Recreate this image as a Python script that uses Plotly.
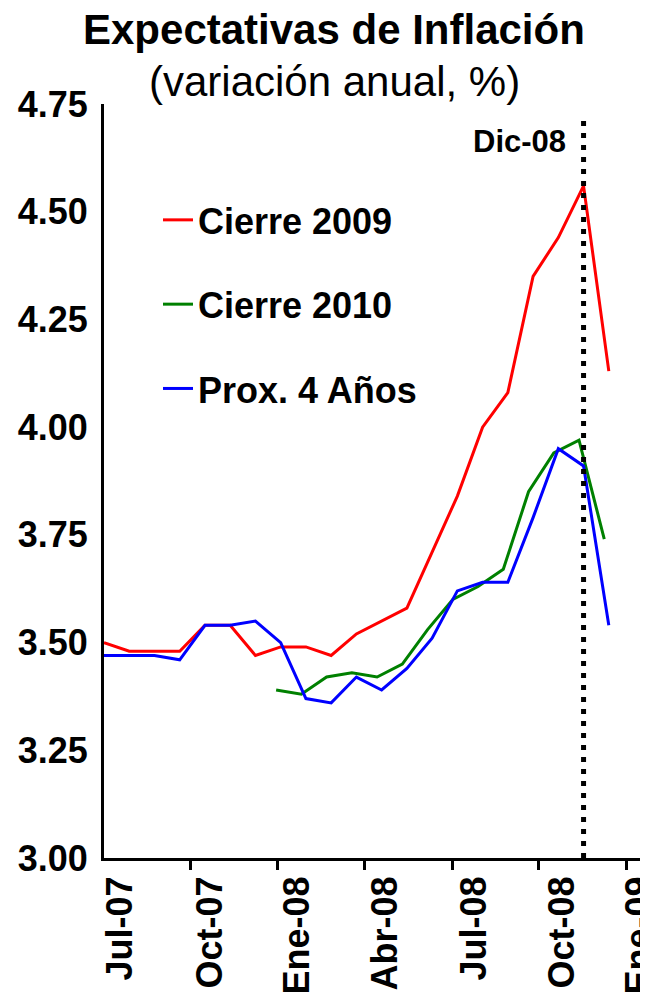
import plotly.graph_objects as go

# observaciones (índice mensual sobre el eje) y series
obs = list(range(21))
cierre_2009 = [3.50, 3.48, 3.48, 3.48, 3.54, 3.54, 3.47, 3.49, 3.49, 3.47, 3.52,
               3.55, 3.58, 3.71, 3.84, 4.00, 4.08, 4.35, 4.44, 4.56, 4.13]
obs_2010 = [6.82, 7.82, 8.82, 9.82, 10.82, 11.82, 12.82, 13.82, 14.82, 15.82,
            16.82, 17.82, 18.82, 19.82]
cierre_2010 = [3.39, 3.38, 3.42, 3.43, 3.42, 3.45, 3.53, 3.60, 3.63, 3.67,
               3.85, 3.94, 3.97, 3.74]
prox_4 = [3.47, 3.47, 3.47, 3.46, 3.54, 3.54, 3.55, 3.50, 3.37, 3.36, 3.42,
          3.39, 3.44, 3.51, 3.62, 3.64, 3.64, 3.79, 3.95, 3.91, 3.54]

meses = ["Jul-07", "Oct-07", "Ene-08", "Abr-08", "Jul-08", "Oct-08", "Ene-09"]
pos_meses = [0.63, 4.2, 7.65, 11.15, 14.68, 18.15, 21.2]
pos_marcas = [3.41, 6.87, 10.34, 13.79, 17.23, 20.72]
dic08_obs = 19
dic08_tope = 4.72

FONT = "Liberation Sans"

fig = go.Figure()
fig.add_trace(go.Scatter(x=obs, y=cierre_2009, name="Cierre 2009", mode="lines",
                         line=dict(color="#ff0000", width=3), legendgroup="a"))
fig.add_trace(go.Scatter(x=obs_2010, y=cierre_2010, name="Cierre 2010", mode="lines",
                         line=dict(color="#008000", width=3), legendgroup="b"))
fig.add_trace(go.Scatter(x=obs, y=prox_4, name="Prox. 4 Años", mode="lines",
                         line=dict(color="#0000ff", width=3), legendgroup="c"))

# linea punteada en Dic-08
fig.add_shape(type="line", xref="x", yref="y", x0=dic08_obs, x1=dic08_obs,
              y0=3.0, y1=dic08_tope, line=dict(color="black", width=5, dash="5px,7px"))
fig.add_annotation(x=dic08_obs, y=4.664, xref="x", yref="y", text="Dic-08",
                   showarrow=False, xanchor="right", yanchor="middle", xshift=-16,
                   font=dict(family=FONT, size=31, color="black", weight="bold"))

fig.add_annotation(x=0.4167, y=1.0994, xref="paper", yref="paper",
                   text="Expectativas de Inflación", showarrow=False,
                   xanchor="center", yanchor="middle",
                   font=dict(family=FONT, size=42, color="black", weight="bold"))
fig.add_annotation(x=0.4167, y=1.0295, xref="paper", yref="paper",
                   text="(variación anual, %)", showarrow=False,
                   xanchor="center", yanchor="middle",
                   font=dict(family=FONT, size=42, color="black"))

yvals = [3.0 + 0.25 * k for k in range(8)]
fig.update_layout(
    width=648, height=1002,
    margin=dict(l=96, r=0, t=96, b=151.5, autoexpand=False),
    plot_bgcolor="white", paper_bgcolor="white",
    showlegend=True,
    legend=dict(x=0.0978, y=0.8860, xanchor="left", yanchor="top",
                font=dict(family=FONT, size=36, color="black", weight="bold"),
                traceorder="grouped", tracegroupgap=34.5, bgcolor="rgba(0,0,0,0)"),
    xaxis=dict(range=[0, 21.87], showgrid=False, zeroline=False, automargin=False,
               showline=True, linecolor="black", linewidth=3,
               tickmode="array", tickvals=pos_meses, ticktext=meses,
               tickangle=-90, ticks="", ticklabelstandoff=1, ticklabeloverflow="allow",
               tickfont=dict(family=FONT, size=36, color="black", weight="bold"),
               minor=dict(tickmode="array", tickvals=pos_marcas, ticks="outside",
                          ticklen=9, tickwidth=3, tickcolor="black")),
    yaxis=dict(range=[3.0, 4.75], showgrid=False, zeroline=False, automargin=False,
               showline=True, linecolor="black", linewidth=3,
               tickmode="array", tickvals=yvals, ticklabelstandoff=6,
               ticktext=["%.2f" % v for v in yvals], ticks="",
               tickfont=dict(family=FONT, size=36, color="black", weight="bold")),
)

fig.write_html("out.html")
